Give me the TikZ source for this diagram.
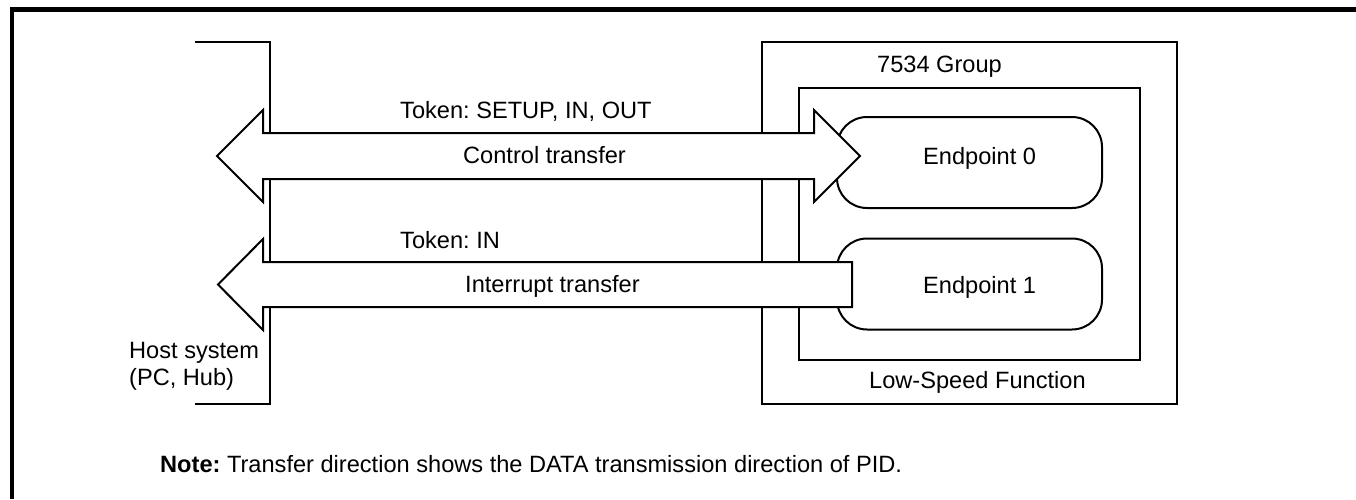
\documentclass[tikz,border=0pt]{standalone}
\usepackage{fontspec}
\setmainfont{Liberation Sans}
\frenchspacing
\begin{document}
\begin{tikzpicture}[x=1pt,y=-1pt,
  line/.style={line width=2pt},
  box/.style={draw,line width=2pt,inner sep=0pt,outer sep=0pt},
  epbox/.style={box,rounded corners=30pt,minimum width=265pt,minimum height=91pt},
  bigarrow/.style={draw,fill=white,line width=2pt,line join=miter},
  lbl/.style={anchor=base west,inner sep=0pt,font=\fontsize{23.6}{27}\selectfont},
  frameline/.style={line width=4.5pt}
]
\useasboundingbox (0,0) rectangle (1356,499);
% frame (top and left only)
\draw[frameline] (1356,9.5) -- (12,9.5) -- (12,499);

% host bracket
\coordinate (h1) at (195,42);
\coordinate (h2) at (270,42);
\coordinate (h3) at (270,404);
\coordinate (h4) at (195,404);
\draw[line] (h1) -- (h2) -- (h3) -- (h4);
\node[lbl] (host1) at (129,358) {Host system};
\node[lbl] (host2) at (129,385) {(PC, Hub)};

% device boxes
\node[box,minimum width=415pt,minimum height=362pt] (group) at (969.5,223) {};
\node[lbl] (grouplbl) at (877,72) {7534 Group};
\node[box,minimum width=341pt,minimum height=272pt] (func) at (969.5,224) {};
\node[lbl] (funclbl) at (869,388) {Low-Speed Function};
\node[epbox] (ep0) at (969.5,162.5) {};
\node[lbl] (ep0lbl) at (923,164) {Endpoint 0};
\node[epbox] (ep1) at (969.5,284) {};
\node[lbl] (ep1lbl) at (923,293) {Endpoint 1};

% control transfer arrow (both ways)
\draw[bigarrow] (263,133) -- (814,133) -- (814,110) -- (860,156) -- (814,202)
  -- (814,179) -- (263,179) -- (263,202) -- (217,156) -- (263,110) -- cycle;
\node[lbl] (tok1) at (400,118) {Token: SETUP, IN, OUT};
\node[lbl] (ctl) at (463,163) {Control transfer};

% interrupt transfer arrow (to host)
\draw[bigarrow] (852,262) -- (852,307) -- (263,307) -- (263,330) -- (218,284.5)
  -- (263,239) -- (263,262) -- cycle;
\node[lbl] (tok2) at (400,248) {Token: IN};
\node[lbl] (intr) at (465,292) {Interrupt transfer};

% note
\node[lbl] (note) at (160,472) {\textbf{Note:} Transfer direction shows the DATA transmission direction of PID.};
\end{tikzpicture}
\end{document}
